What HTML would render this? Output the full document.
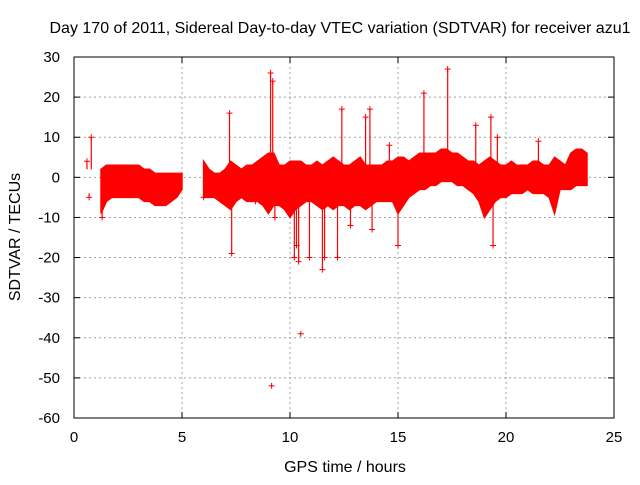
<!DOCTYPE html>
<html><head><meta charset="utf-8"><style>
body{margin:0;background:#fff;width:640px;height:480px;overflow:hidden}
svg text{font-family:"Liberation Sans",sans-serif;font-size:16px;fill:#000}
svg text.tick{font-size:15px}
</style></head><body>
<svg id="chart" width="640" height="480" xmlns="http://www.w3.org/2000/svg">
<rect width="640" height="480" fill="#fff"/>
<text x="340" y="33" text-anchor="middle">Day 170 of 2011, Sidereal Day-to-day VTEC variation (SDTVAR) for receiver azu1</text>
<text x="345" y="472" text-anchor="middle">GPS time / hours</text>
<text transform="translate(20,237) rotate(-90)" text-anchor="middle">SDTVAR / TECUs</text>
<g id="grid"></g><g id="data"></g><g id="axes"></g>
</svg>
<script>
const xTicks=[0,5,10,15,20,25];
const yTicks=[30,20,10,0,-10,-20,-30,-40,-50,-60];
const bandTimes=[1.25,1.5,1.75,2,2.25,2.5,2.75,3,3.25,3.5,3.75,4,4.25,4.5,4.75,5,
6,6.25,6.5,6.75,7,7.25,7.5,7.75,8,8.25,8.5,8.75,9,9.25,9.5,9.75,10,10.25,10.5,10.75,11,11.25,11.5,11.75,12,12.25,12.5,12.75,13,13.25,13.5,13.75,14,14.25,14.5,14.75,15,15.25,15.5,15.75,16,16.25,16.5,16.75,17,17.25,17.5,17.75,18,18.25,18.5,18.75,19,19.25,19.5,19.75,20,20.25,20.5,20.75,21,21.25,21.5,21.75,22,22.25,22.5,22.75,23,23.25,23.5,23.75];
const bandMin=[-9,-6,-5,-5,-5,-5,-5,-5,-6,-6,-7,-7,-7,-6,-5,-3,
-5,-5,-5,-6,-7,-8,-6,-5,-6,-6,-6,-7,-9,-7,-7,-8,-10,-8,-7,-6,-6,-7,-8,-7,-8,-7,-7,-8,-7,-7,-8,-7,-6,-6,-6,-6,-9,-7,-5,-4,-3,-3,-2,-2,-1,-1,-1,-2,-2,-3,-4,-6,-10,-8,-6,-5,-5,-4,-4,-4,-3,-4,-4,-4,-5,-9,-3,-3,-3,-2,-2,-2];
const bandMax=[2,3,3,3,3,3,3,3,2,2,1,1,1,1,1,1,
4,2,1,1,2,4,3,2,3,3,4,5,6,6,3,3,4,4,4,3,3,4,3,4,5,4,3,3,4,5,3,3,3,3,4,4,5,5,4,5,6,6,6,6,7,7,6,6,5,4,4,3,4,5,4,3,3,4,3,3,3,4,4,3,3,5,4,3,6,7,7,6];
const spikeTimes=[0.6,0.8,0.7,1.3,7.2,7.3,9.1,9.2,9.15,9.3,10.2,10.3,10.4,10.5,10.9,11.5,11.6,12.2,12.4,12.8,13.5,13.7,13.8,15,16.2,17.3,18.6,19.3,19.4,19.6,21.5,14.6,6,8.4];
const spikeVals=[4,10,-5,-10,16,-19,26,24,-52,-10,-20,-17,-21,-39,-20,-23,-20,-20,17,-12,15,17,-13,-17,21,27,13,15,-17,10,9,8,-5,-6];
const X0=74,X1=614,Y0=418,Y1=57;
const xs=v=>X0+(v-0)/25*(X1-X0);
const ys=v=>Y0-(v+60)/90*(Y0-Y1);
const NS="http://www.w3.org/2000/svg";
function mk(p,t,a){const e=document.createElementNS(NS,t);for(const k in a)e.setAttribute(k,a[k]);p.appendChild(e);return e;}
const grid=document.getElementById('grid'),data=document.getElementById('data'),axes=document.getElementById('axes');
xTicks.forEach(t=>{const x=xs(t);
 if(t>0&&t<25){const l=mk(grid,'line',{x1:x,x2:x,y1:Y1,y2:Y0,stroke:'#a0a0a0','stroke-dasharray':'2,3'});}
 const tx=mk(axes,'text',{x:x,y:Y0+24,'text-anchor':'middle','class':'tick'});tx.textContent=t;
 
 mk(axes,'line',{x1:x,x2:x,y1:Y0,y2:Y0-6,stroke:'#000'});mk(axes,'line',{x1:x,x2:x,y1:Y1,y2:Y1+6,stroke:'#000'});});
yTicks.forEach(t=>{const y=ys(t);
 if(t>-60&&t<30){const l=mk(grid,'line',{x1:X0,x2:X1,y1:y,y2:y,stroke:'#a0a0a0','stroke-dasharray':'2,3'});}
 const tx=mk(axes,'text',{x:X0-14,y:y+5,'text-anchor':'end','class':'tick'});tx.textContent=t;
 
 mk(axes,'line',{x1:X0,x2:X0+6,y1:y,y2:y,stroke:'#000'});mk(axes,'line',{x1:X1,x2:X1-6,y1:y,y2:y,stroke:'#000'});});
const fr=mk(axes,'rect',{x:X0,y:Y1,width:X1-X0,height:Y0-Y1,fill:'none',stroke:'#000'});

const segs=[];let cur=[];
bandTimes.forEach((t,i)=>{if(cur.length&&t-bandTimes[cur[cur.length-1]]>0.5){segs.push(cur);cur=[];}cur.push(i);});
if(cur.length)segs.push(cur);
segs.forEach(s=>{
 let up=s.map(i=>`${xs(bandTimes[i])},${ys(bandMax[i])}`);
 let lo=s.slice().reverse().map(i=>`${xs(bandTimes[i])},${ys(bandMin[i])}`);
 const p=mk(data,'polygon',{points:up.concat(lo).join(' '),fill:'#ff0000',stroke:'#ff0000','stroke-width':1.5});
 });
spikeTimes.forEach((t,i)=>{const x=xs(t),y=ys(spikeVals[i]);
 const base=spikeVals[i]>0?ys(2):ys(-4);
 if(Math.abs(spikeVals[i])<30){mk(data,'line',{x1:x,x2:x,y1:base,y2:y,stroke:'#ff0000','stroke-width':1.2});}
 const g=mk(data,'path',{d:`M${x-3},${y}h6M${x},${y-3}v6`,stroke:'#ff0000','stroke-width':1});
 });
</script>
</body></html>
